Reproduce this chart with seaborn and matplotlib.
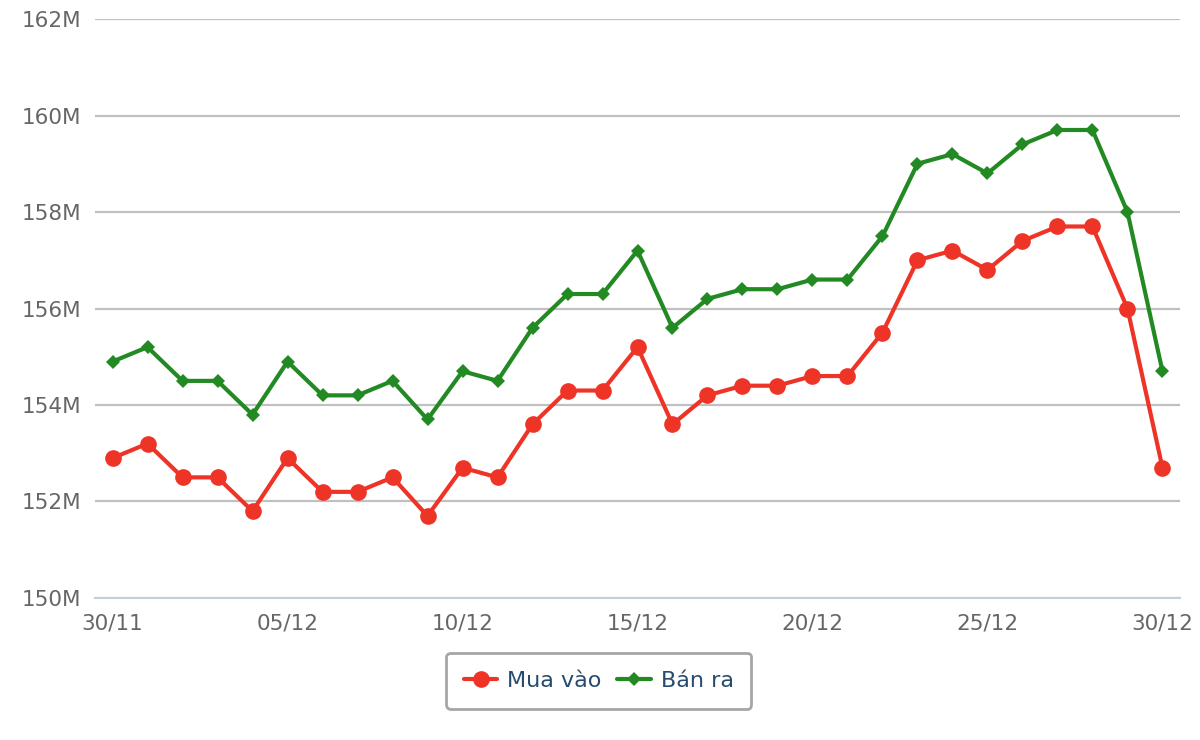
import pandas as pd
import matplotlib.pyplot as plt
import matplotlib.ticker as mticker
import seaborn as sns

# data (triệu đồng / lượng)
dates = pd.date_range("2023-11-30", "2023-12-30", freq="D").strftime("%d/%m").tolist()
mua_vao = [152.9, 153.2, 152.5, 152.5, 151.8, 152.9, 152.2, 152.2, 152.5, 151.7,
           152.7, 152.5, 153.6, 154.3, 154.3, 155.2, 153.6, 154.2, 154.4, 154.4,
           154.6, 154.6, 155.5, 157.0, 157.2, 156.8, 157.4, 157.7, 157.7, 156.0,
           152.7]
ban_ra = [154.9, 155.2, 154.5, 154.5, 153.8, 154.9, 154.2, 154.2, 154.5, 153.7,
          154.7, 154.5, 155.6, 156.3, 156.3, 157.2, 155.6, 156.2, 156.4, 156.4,
          156.6, 156.6, 157.5, 159.0, 159.2, 158.8, 159.4, 159.7, 159.7, 158.0,
          154.7]
label_every = 5

df = pd.DataFrame({"pos": range(len(dates)), "date": dates,
                   "Mua vào": mua_vao, "Bán ra": ban_ra})

sns.set_style("white")
plt.rcParams['font.family'] = ['DejaVu Sans']

fig = plt.figure(figsize=(12, 7.4), dpi=100)
ax = fig.add_axes([0.0792, 0.1919, 0.9041, 0.7824])

red = "#ee3427"
green = "#238a23"
sns.lineplot(data=df, x="pos", y="Mua vào", ax=ax, color=red, linewidth=3,
             marker="o", markersize=12, markeredgewidth=0, label="Mua vào")
sns.lineplot(data=df, x="pos", y="Bán ra", ax=ax, color=green, linewidth=3,
             marker="D", markersize=7.5, markeredgewidth=0, label="Bán ra")

ax.set_ylim(150, 162)
ax.set_xlim(-0.5, len(dates) - 0.5)
ax.yaxis.set_major_locator(mticker.MultipleLocator(2))
ax.yaxis.set_major_formatter(mticker.FuncFormatter(lambda v, p: f"{v:.0f}M"))
ax.grid(axis="y", color="#c0c0c0", linewidth=1.6)
ax.set_axisbelow(True)

ticks = list(range(0, len(dates), label_every))
ax.set_xticks(ticks)
ax.set_xticklabels([dates[i] for i in ticks])
ax.set_xticks([i - 0.5 for i in range(len(dates) + 1)], minor=True)
ax.tick_params(axis="x", which="major", length=0, pad=11, labelsize=15.5, labelcolor="#666666")
ax.tick_params(axis="x", which="minor", length=6, width=1.5, color="#c0d0e0", direction="out")
ax.tick_params(axis="y", length=0, pad=10, labelsize=15.5, labelcolor="#666666")

for s in ["top", "right", "left"]:
    ax.spines[s].set_visible(False)
ax.spines["bottom"].set_color("#c0d0e0")
ax.spines["bottom"].set_linewidth(1.5)
ax.set_xlabel("")
ax.set_ylabel("")

leg = ax.legend(loc="upper center", bbox_to_anchor=(0.499, 0.1176),
                bbox_transform=fig.transFigure, ncol=2, frameon=True, fancybox=True,
                fontsize=16, handlelength=1.5, columnspacing=0.7, handletextpad=0.45,
                borderpad=0.8, borderaxespad=0, edgecolor="#909090")
leg.get_frame().set_linewidth(2)
for t in leg.get_texts():
    t.set_color("#274b6d")

plt.savefig("out.png", dpi=100)
